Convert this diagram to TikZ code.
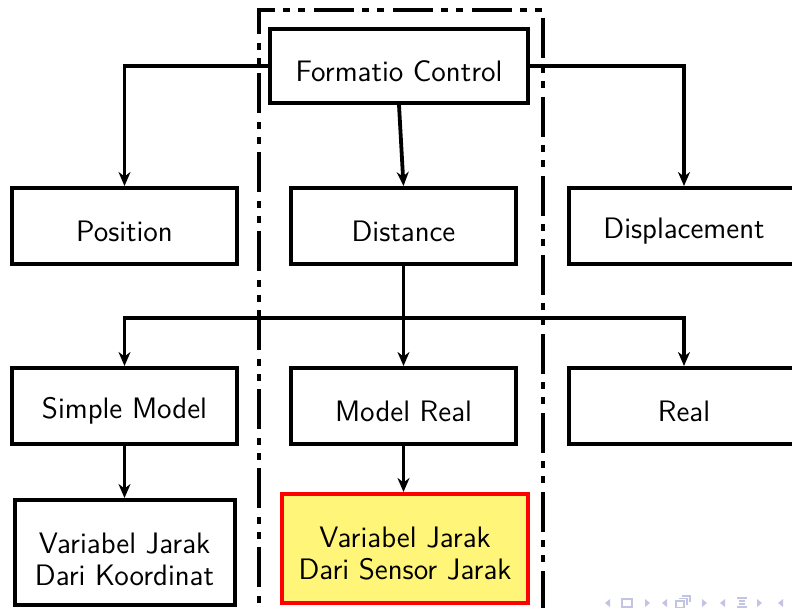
\documentclass[tikz,border=0pt]{standalone}
\usetikzlibrary{arrows.meta}
\definecolor{navcol}{RGB}{195,195,228}
\definecolor{boxyellow}{RGB}{255,245,120}
\begin{document}
\begin{tikzpicture}[x=0.5pt,y=-0.5pt,
  box/.style={draw=black, line width=2pt, fill=white, font=\sffamily\fontsize{14.8}{16}\selectfont, align=center, inner sep=0pt},
  onebox/.style={box, text height=15.5pt},
  conn/.style={line width=1.9pt, -{Stealth[length=7pt,width=6pt]}},
  nav/.style={fill=navcol, draw=none}]
\useasboundingbox (0,0) rectangle (792,608);
\clip (0,0) rectangle (792,608);
% dash-dot-dot frame
\draw[line width=1.75pt, dash pattern=on 20pt off 4pt on 3.5pt off 4pt on 3.5pt off 4.5pt, dash phase=3pt]
  (259,660) -- (259,10) -- (543,10) -- (543,660);
% nodes
\node[onebox, minimum width=129pt, minimum height=37pt] (fc) at (399,66) {Formatio Control};
\node[onebox, minimum width=112.5pt, minimum height=38pt] (pos) at (124.5,226) {Position};
\node[onebox, minimum width=112.5pt, minimum height=38pt] (dist) at (403.5,226) {Distance};
\node[onebox, minimum width=115pt, minimum height=38pt] (disp) at (684,226) {Displacement};
\node[onebox, minimum width=112.5pt, minimum height=38pt] (sm) at (124.5,406) {Simple Model};
\node[onebox, minimum width=112.5pt, minimum height=38pt] (mr) at (403.5,406) {Model Real};
\node[onebox, minimum width=115pt, minimum height=38pt] (real) at (684,406) {Real};
\node[box, minimum width=110pt, minimum height=52.5pt] (vk) at (124.5,552.5) {\rule{0pt}{17pt}Variabel Jarak\\Dari Koordinat};
\node[box, draw=red, fill=boxyellow, minimum width=123pt, minimum height=54.5pt] (vs) at (405,548.5) {\rule{0pt}{15.5pt}Variabel Jarak\\Dari Sensor Jarak};
\coordinate (j) at (0,318);
% connectors
\draw[conn] (fc.west) -| (pos.north);
\draw[conn] (fc.east) -| (disp.north);
\draw[conn] (fc.south) -- (dist.north);
\draw[conn] (dist.south) -- (mr.north);
\draw[conn] (dist.south) -- (dist.south |- j) -| (sm.north);
\draw[conn] (dist.south) -- (dist.south |- j) -| (real.north);
\draw[conn] (sm.south) -- (sm.south |- vk.north);
\draw[conn] (mr.south) -- (mr.south |- vs.north);
% navigation symbols
\begin{scope}[nav]
\fill (610,599) -- (610,607) -- (605,603) -- cycle;
\draw[navcol, line width=0.8pt] (622,599) rectangle (632,607);
\fill (645,599) -- (645,607) -- (650,603) -- cycle;
\fill (667,599) -- (667,607) -- (662,603) -- cycle;
\draw[navcol, line width=0.8pt] (676,601) rectangle (684,608) (679,598.5) -- (687,598.5) -- (687,605) (682,596) -- (690,596) -- (690,602);
\fill (702,599) -- (702,607) -- (707,603) -- cycle;
\fill (725,599) -- (725,607) -- (720,603) -- cycle;
\draw[navcol, line width=0.8pt] (737,598) -- (747,598) (739,601) -- (745,601) (739,604) -- (745,604) (737,607) -- (747,607);
\fill (757,599) -- (757,607) -- (762,603) -- cycle;
\fill (783,599) -- (783,607) -- (778,603) -- cycle;
\end{scope}
\end{tikzpicture}
\end{document}
